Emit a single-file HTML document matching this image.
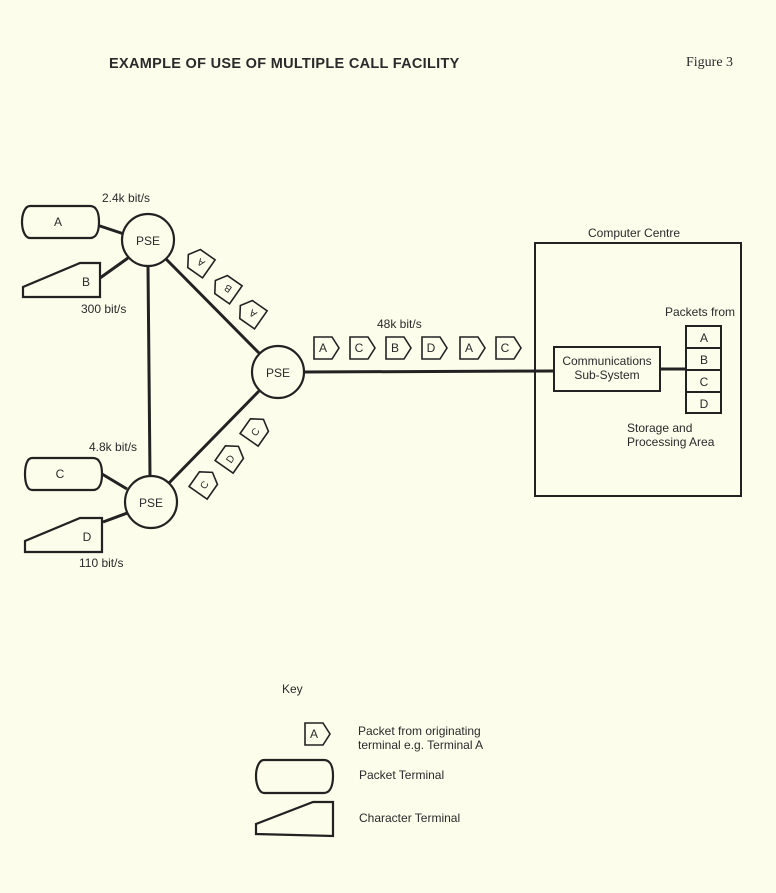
<!DOCTYPE html>
<html><head><meta charset="utf-8"><style>
html,body{margin:0;padding:0;background:#fdfdec;}
svg{display:block}
text{font-family:"Liberation Sans",sans-serif;fill:#2a2a2a}
</style></head><body>
<svg width="776" height="893" viewBox="0 0 776 893" xmlns="http://www.w3.org/2000/svg">
<defs>
<g id="pk"><polygon points="-12,-11 6,-11 13,0 6,11 -12,11" fill="#fdfdec" stroke="#222" stroke-width="1.6"/></g>
</defs>
<rect width="776" height="893" fill="#fdfdec"/>
<text x="109" y="68" font-size="14.5" font-weight="bold" fill="#444" style="letter-spacing:0.3px">EXAMPLE OF USE OF MULTIPLE CALL FACILITY</text>
<text x="686" y="66" font-size="14" style="font-family:'Liberation Serif',serif">Figure 3</text>

<g stroke="#222" stroke-width="3" fill="none">
<line x1="97" y1="225" x2="124" y2="234"/>
<line x1="100" y1="278" x2="128" y2="258"/>
<line x1="148" y1="266" x2="150" y2="476"/>
<line x1="166" y1="259" x2="259" y2="353"/>
<line x1="259" y1="391" x2="169" y2="483"/>
<line x1="102" y1="474" x2="127" y2="489"/>
<line x1="103" y1="522" x2="130" y2="512"/>
<line x1="303" y1="372" x2="555" y2="371"/>
<line x1="660" y1="369" x2="686" y2="369"/>
</g>
<g stroke="#222" stroke-width="2.2" fill="#fdfdec">
<circle cx="148" cy="240" r="26"/>
<circle cx="278" cy="372" r="26"/>
<circle cx="151" cy="502" r="26"/>
<path d="M30,206 H90 C97,206 99,214 99,222 C99,230 97,238 90,238 H30 C25,238 22,230 22,222 C22,214 25,206 30,206Z"/>
<polygon points="23,297 23,287 80,263 100,263 100,297"/>
<path d="M32,458 H93 C100,458 102,466 102,474 C102,482 100,490 93,490 H32 C27,490 25,482 25,474 C25,466 27,458 32,458Z"/>
<polygon points="25,552 25,541 80,518 102,518 102,552"/>
<path d="M264,760 H324 C331,760 333,768 333,776 C333,784 331,793 324,793 H264 C259,793 256,784 256,776 C256,768 259,760 264,760Z"/>
<polygon points="256,834 256,824 313,802 333,802 333,836"/>
</g>
<g font-size="12" text-anchor="middle">
<text x="148" y="245">PSE</text><text x="278" y="377">PSE</text><text x="151" y="507">PSE</text>
<text x="58" y="226">A</text><text x="86" y="286">B</text><text x="60" y="478">C</text><text x="87" y="541">D</text>
</g>
<g font-size="12">
<text x="102" y="202">2.4k bit/s</text>
<text x="81" y="313">300 bit/s</text>
<text x="89" y="451">4.8k bit/s</text>
<text x="79" y="567">110 bit/s</text>
<text x="377" y="328">48k bit/s</text>
<text x="588" y="237">Computer Centre</text>
<text x="665" y="316">Packets from</text>
<text x="627" y="432">Storage and</text>
<text x="627" y="446">Processing Area</text>
<text x="282" y="693">Key</text>
<text x="358" y="735">Packet from originating</text>
<text x="358" y="749">terminal e.g. Terminal A</text>
<text x="359" y="779">Packet Terminal</text>
<text x="359" y="822">Character Terminal</text>
</g>
<g font-size="10" text-anchor="middle">
<g transform="translate(199,262) rotate(215)"><use href="#pk"/><text x="-2" y="4">A</text></g>
<g transform="translate(226,288) rotate(215)"><use href="#pk"/><text x="-2" y="4">B</text></g>
<g transform="translate(251,313) rotate(215)"><use href="#pk"/><text x="-2" y="4">A</text></g>
<g transform="translate(256,430) rotate(-55)"><use href="#pk"/><text x="-2" y="4">C</text></g>
<g transform="translate(231,457) rotate(-55)"><use href="#pk"/><text x="-2" y="4">D</text></g>
<g transform="translate(205,483) rotate(-55)"><use href="#pk"/><text x="-2" y="4">C</text></g>
</g>
<g font-size="12" text-anchor="middle">
<g transform="translate(326,348)"><use href="#pk"/><text x="-3" y="4">A</text></g>
<g transform="translate(362,348)"><use href="#pk"/><text x="-3" y="4">C</text></g>
<g transform="translate(398,348)"><use href="#pk"/><text x="-3" y="4">B</text></g>
<g transform="translate(434,348)"><use href="#pk"/><text x="-3" y="4">D</text></g>
<g transform="translate(472,348)"><use href="#pk"/><text x="-3" y="4">A</text></g>
<g transform="translate(508,348)"><use href="#pk"/><text x="-3" y="4">C</text></g>
<g transform="translate(317,734)"><use href="#pk"/><text x="-3" y="4">A</text></g>
</g>
<g stroke="#222" stroke-width="2" fill="none">
<rect x="535" y="243" width="206" height="253"/>
<rect x="554" y="347" width="106" height="44" fill="#fdfdec"/>
<rect x="686" y="326" width="35" height="87"/>
<line x1="686" y1="348" x2="721" y2="348"/>
<line x1="686" y1="370" x2="721" y2="370"/>
<line x1="686" y1="392" x2="721" y2="392"/>
</g>
<g font-size="12" text-anchor="middle">
<text x="607" y="365">Communications</text>
<text x="607" y="379">Sub-System</text>
<text x="704" y="342">A</text><text x="704" y="364">B</text><text x="704" y="386">C</text><text x="704" y="408">D</text>
</g>
</svg>
</body></html>
